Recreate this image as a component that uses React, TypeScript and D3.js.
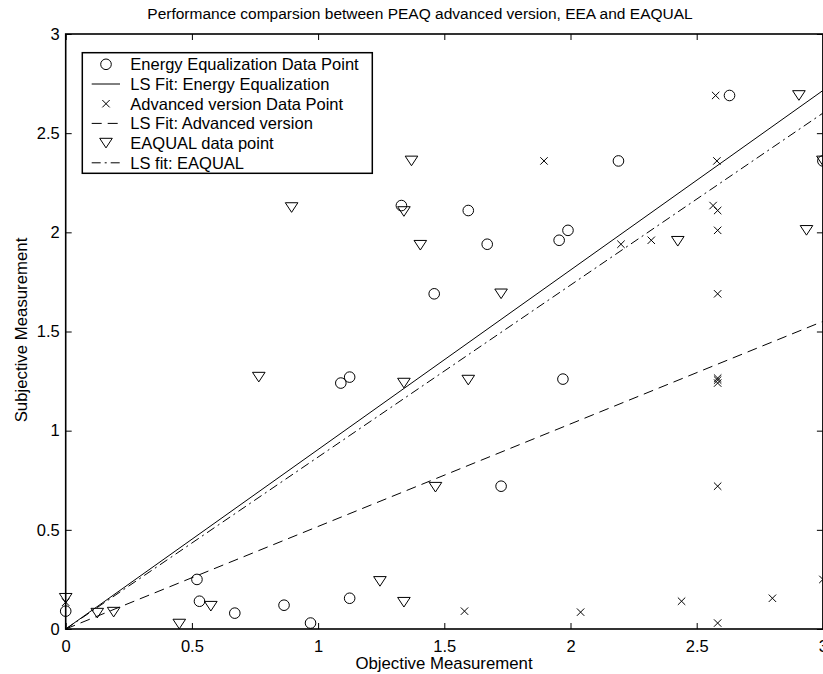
import React, { useEffect, useRef } from "react";
import * as d3 from "d3";

// Energy Equalization data points (circles)
const eeaX = [0, 0.52, 0.53, 0.67, 0.865, 0.97, 1.09, 1.125, 1.125, 1.33, 1.46, 1.595, 1.67, 1.725, 1.955, 1.97, 1.99, 2.19, 2.63, 3.0];
const eeaY = [0.09, 0.25, 0.14, 0.08, 0.12, 0.03, 1.24, 1.27, 0.155, 2.135, 1.69, 2.11, 1.94, 0.72, 1.96, 1.26, 2.01, 2.36, 2.69, 2.36];

// Advanced version data points (x marks)
const advX = [0, 1.58, 1.895, 2.04, 2.2, 2.32, 2.44, 2.575, 2.58, 2.565, 2.583, 2.583, 2.583, 2.583, 2.583, 2.583, 2.583, 2.583, 2.8, 3.0];
const advY = [0.135, 0.09, 2.36, 0.085, 1.94, 1.96, 0.14, 2.69, 2.36, 2.135, 2.11, 2.01, 1.69, 1.265, 1.255, 1.24, 0.72, 0.03, 0.155, 0.25];

// EAQUAL data points (down triangles)
const eaqX = [0, 0.125, 0.19, 0.45, 0.575, 0.765, 0.895, 1.245, 1.34, 1.34, 1.34, 1.37, 1.405, 1.465, 1.595, 1.725, 2.425, 2.905, 2.935, 3.0];
const eaqY = [0.155, 0.08, 0.085, 0.025, 0.115, 1.27, 2.125, 0.24, 2.105, 1.24, 0.135, 2.36, 1.935, 0.715, 1.255, 1.69, 1.955, 2.69, 2.01, 2.36];

// least squares fits (slope through origin)
const fitNames = ["eea", "adv", "eaq"];
const fitSlopes = [0.905, 0.517, 0.867];
const fitDash = ["none", "10,6", "9,4,2,4"];

const ticks = [0, 0.5, 1, 1.5, 2, 2.5, 3];
const legendLabels = [
  "Energy Equalization Data Point",
  "LS Fit: Energy Equalization",
  "Advanced version Data Point",
  "LS Fit: Advanced version",
  "EAQUAL data point",
  "LS fit: EAQUAL",
];

const FONT = "'Liberation Sans', Arial, Helvetica, sans-serif";

function drawCircle(g: any, cx: number, cy: number) {
  g.append("circle").attr("cx", cx).attr("cy", cy).attr("r", 5.3)
    .attr("fill", "none").attr("stroke", "black").attr("stroke-width", 1);
}
function drawCross(g: any, cx: number, cy: number) {
  const s = 3.7;
  g.append("path")
    .attr("d", `M${cx - s},${cy - s}L${cx + s},${cy + s}M${cx - s},${cy + s}L${cx + s},${cy - s}`)
    .attr("stroke", "black").attr("stroke-width", 1).attr("fill", "none");
}
function drawTri(g: any, cx: number, cy: number) {
  g.append("path")
    .attr("d", `M${cx - 6.3},${cy - 4.8}L${cx + 6.3},${cy - 4.8}L${cx},${cy + 4.8}Z`)
    .attr("stroke", "black").attr("stroke-width", 1).attr("fill", "none");
}

export default function App() {
  const ref = useRef<SVGSVGElement>(null);

  useEffect(() => {
    const svg = d3.select(ref.current);
    svg.selectAll("*").remove();

    const x = d3.scaleLinear().domain([0, 3]).range([65.7, 822.9]);
    const y = d3.scaleLinear().domain([0, 3]).range([629, 34]);

    // title
    svg.append("text")
      .attr("x", 420).attr("y", 19)
      .attr("text-anchor", "middle")
      .style("font-size", "15.5px")
      .text("Performance comparsion between PEAQ advanced version, EEA and EAQUAL");

    // axes (ticks point inward, matlab style)
    const bottom = svg.append("g").attr("transform", `translate(0,${y(0)})`)
      .call(d3.axisBottom(x).tickValues(ticks).tickSizeInner(-6).tickSizeOuter(0).tickPadding(11).tickFormat(d3.format("")));
    const left = svg.append("g").attr("transform", `translate(${x(0)},0)`)
      .call(d3.axisLeft(y).tickValues(ticks).tickSizeInner(-6).tickSizeOuter(0).tickPadding(6).tickFormat(d3.format("")));
    const top = svg.append("g").attr("transform", `translate(0,${y(3)})`)
      .call(d3.axisTop(x).tickValues(ticks).tickSizeInner(-6).tickSizeOuter(0).tickFormat(() => ""));
    const right = svg.append("g").attr("transform", `translate(${x(3)},0)`)
      .call(d3.axisRight(y).tickValues(ticks).tickSizeInner(-6).tickSizeOuter(0).tickFormat(() => ""));
    [bottom, left, top, right].forEach((a) => {
      a.select(".domain").remove();
      a.selectAll("line").attr("stroke", "black").attr("stroke-width", 1);
      a.selectAll("text").style("font-size", "16.5px").style("font-family", FONT).attr("fill", "black");
    });

    // box
    svg.append("rect")
      .attr("x", x(0)).attr("y", y(3))
      .attr("width", x(3) - x(0)).attr("height", y(0) - y(3))
      .attr("fill", "none").attr("stroke", "black").attr("stroke-width", 1.6);

    // fit lines
    fitSlopes.forEach((m, i) => {
      svg.append("path")
        .datum([0, 3])
        .attr("class", "fit-" + fitNames[i])
        .attr("fill", "none")
        .attr("stroke", "black")
        .attr("stroke-width", 1)
        .attr("stroke-dasharray", fitDash[i])
        .attr("d", d3.line<number>().x((d) => x(d)).y((d) => y(m * d)));
    });

    // points
    const pts = svg.append("g");
    eeaX.forEach((v, i) => drawCircle(pts, x(v), y(eeaY[i])));
    advX.forEach((v, i) => drawCross(pts, x(v), y(advY[i])));
    eaqX.forEach((v, i) => drawTri(pts, x(v), y(eaqY[i])));

    // axis labels
    svg.append("text")
      .attr("x", 444).attr("y", 669)
      .attr("text-anchor", "middle")
      .style("font-size", "16.8px")
      .text("Objective Measurement");
    svg.append("text")
      .attr("transform", "translate(27,330) rotate(-90)")
      .attr("text-anchor", "middle")
      .style("font-size", "16.8px")
      .text("Subjective Measurement");

    // legend
    const lg = svg.append("g");
    lg.append("rect")
      .attr("x", 82.3).attr("y", 52.7).attr("width", 290).attr("height", 120.6)
      .attr("fill", "white").attr("stroke", "black").attr("stroke-width", 1.5);
    legendLabels.forEach((label, i) => {
      const cy = 64.3 + i * 19.7;
      if (i === 0) drawCircle(lg, 106, cy);
      else if (i === 2) drawCross(lg, 106, cy);
      else if (i === 4) drawTri(lg, 106, cy);
      else {
        lg.append("line")
          .attr("x1", 91.7).attr("x2", 120).attr("y1", cy).attr("y2", cy)
          .attr("stroke", "black").attr("stroke-width", 1)
          .attr("stroke-dasharray", fitDash[(i - 1) / 2]);
      }
      lg.append("text")
        .attr("x", 130.3).attr("y", cy).attr("dy", "0.36em")
        .style("font-size", "16.5px")
        .text(label);
    });
  }, []);

  return (
    <svg
      ref={ref}
      width={823}
      height={674}
      style={{ position: "absolute", left: 0, top: 0, background: "white", fontFamily: FONT }}
    />
  );
}
